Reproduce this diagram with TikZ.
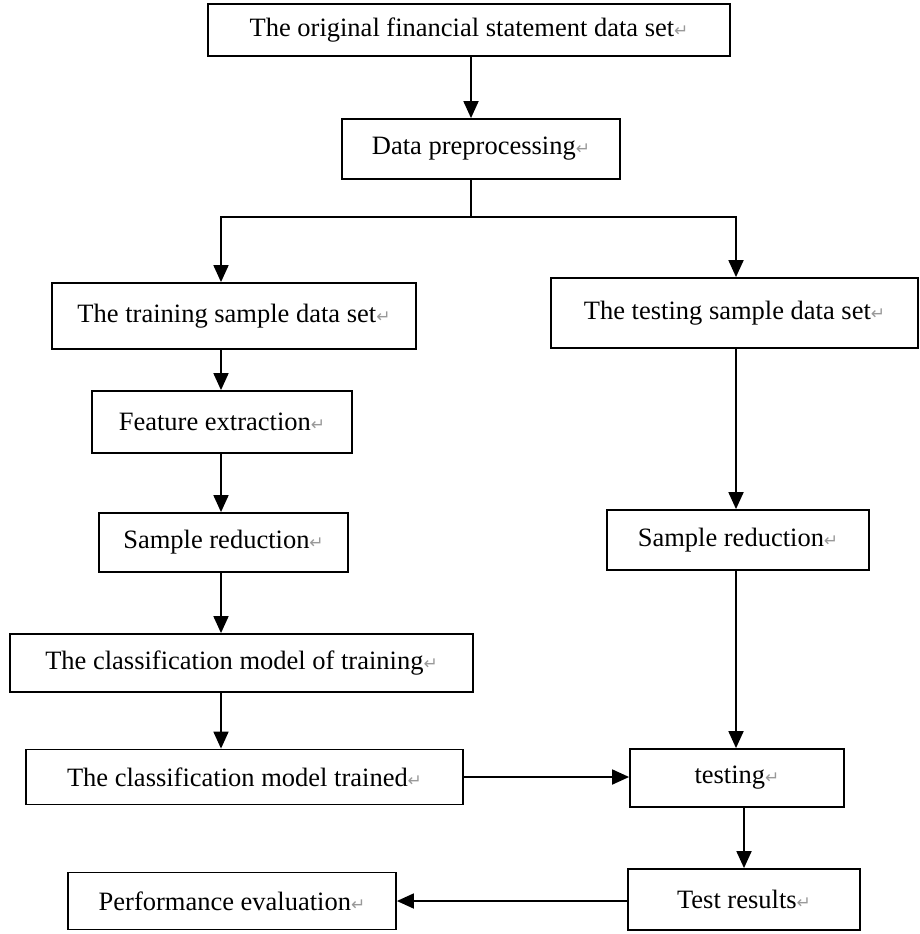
\documentclass[tikz,border=0pt]{standalone}
\usepackage{fontspec}
\setmainfont{Liberation Serif}
\newfontfamily\marksfont{DejaVu Sans}
\usetikzlibrary{arrows.meta}

\newcommand\parmark{{\marksfont\color{gray!80}\fontsize{17}{17}\selectfont ↵}}

\begin{document}
\begin{tikzpicture}[
  x=1pt, y=-1pt,
  box/.style={draw, line width=1.8pt, inner sep=0pt, align=center,
    font=\fontsize{26.5}{30}\selectfont},
  arr/.style={-{Triangle[length=17pt,width=15pt]}, line width=1.8pt},
  line/.style={line width=1.8pt}
]
\useasboundingbox (0,0) rectangle (919,934);

% left column
\node[box, minimum width=522pt, minimum height=52pt] (orig) at (469,30) {The original financial statement data set\parmark};
\node[box, minimum width=278pt, minimum height=60pt] (prep) at (481,149) {Data preprocessing\parmark};
\node[box, minimum width=364pt, minimum height=66pt] (train) at (234,316) {The training sample data set\parmark};
\node[box, minimum width=260pt, minimum height=62pt] (feat) at (222,422) {Feature extraction\parmark};
\node[box, minimum width=249pt, minimum height=59pt] (redL) at (223.5,542.5) {Sample reduction\parmark};
\node[box, minimum width=463pt, minimum height=58pt] (cmodel) at (241.5,663) {The classification model of training\parmark};
\node[box, minimum width=437pt, minimum height=55pt] (ctrained) at (244.5,777) {The classification model trained\parmark};
\node[box, minimum width=328pt, minimum height=57pt] (perf) at (232,901) {Performance evaluation\parmark};

% right column
\node[box, minimum width=367pt, minimum height=70pt] (testset) at (734.5,313) {The testing sample data set\parmark};
\node[box, minimum width=262pt, minimum height=60pt] (redR) at (738,540) {Sample reduction\parmark};
\node[box, minimum width=214pt, minimum height=58pt] (testing) at (737,778) {testing\parmark};
\node[box, minimum width=232pt, minimum height=61pt] (results) at (744,899.5) {Test results\parmark};

\coordinate (sp) at (471,217);
\coordinate (lx) at (221,0);
\coordinate (rx) at (736,0);

\draw[arr] (orig.south -| sp) -- (prep.north -| sp);
\draw[line] (prep.south -| sp) -- (sp);
\draw[arr] (sp) -| (train.north -| lx);
\draw[arr] (sp) -| (testset.north -| rx);

\draw[arr] (train.south -| lx) -- (feat.north -| lx);
\draw[arr] (feat.south -| lx) -- (redL.north -| lx);
\draw[arr] (redL.south -| lx) -- (cmodel.north -| lx);
\draw[arr] (cmodel.south -| lx) -- (ctrained.north -| lx);

\draw[arr] (testset.south -| rx) -- (redR.north -| rx);
\draw[arr] (redR.south -| rx) -- (testing.north -| rx);
\draw[arr] (testing.south -| results.north) -- (results.north);

\draw[arr] (ctrained.east) -- (testing.west |- ctrained.east);
\draw[arr] (results.west |- perf.east) -- (perf.east);
\end{tikzpicture}
\end{document}
